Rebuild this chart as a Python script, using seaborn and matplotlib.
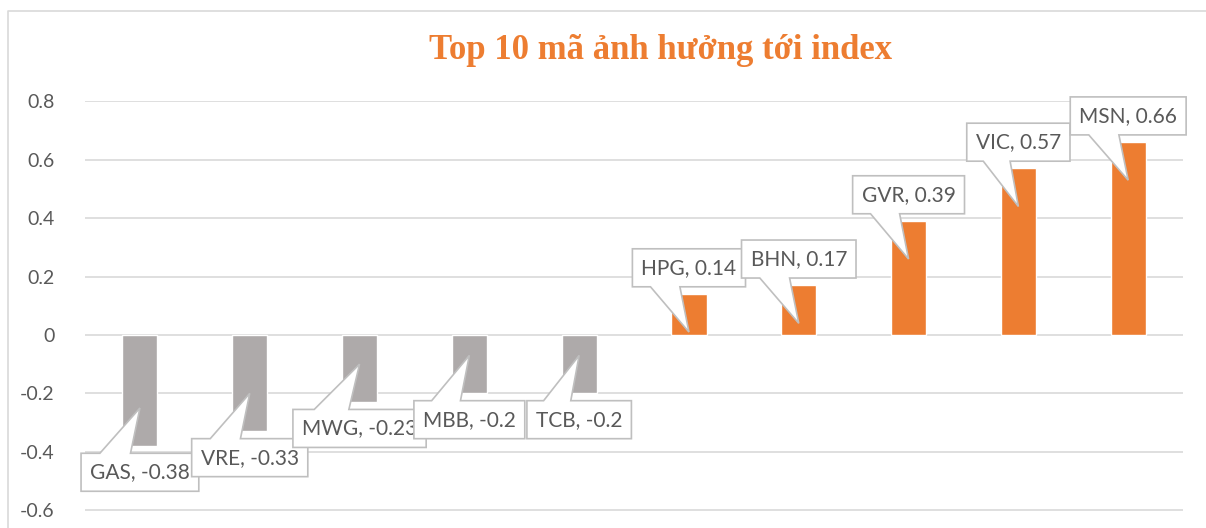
import matplotlib
matplotlib.use("Agg")
import matplotlib.pyplot as plt
from matplotlib.lines import Line2D
from matplotlib.patches import Polygon
from matplotlib.transforms import IdentityTransform
import seaborn as sns

# data
codes = ["GAS", "VRE", "MWG", "MBB", "TCB", "HPG", "BHN", "GVR", "VIC", "MSN"]
impact = [-0.38, -0.33, -0.23, -0.2, -0.2, 0.14, 0.17, 0.39, 0.57, 0.66]
yticks = [-0.6, -0.4, -0.2, 0, 0.2, 0.4, 0.6, 0.8]
ytick_labels = ["-0.6", "-0.4", "-0.2", "0", "0.2", "0.4", "0.6", "0.8"]
title = "Top 10 mã ảnh hưởng tới index"

orange = "#ED7D31"
grey_bar = "#AEAAAA"
text_grey = "#595959"
grid_grey = "#D9D9D9"
box_edge = "#BFBFBF"

sns.set_theme(style="white")
plt.rcParams["font.family"] = ["Lato", "DejaVu Sans"]

fig = plt.figure(figsize=(12.06, 5.28), dpi=100)
ax = fig.add_axes([0.0705, 0.0331, 0.9105, 0.7756])

colors = [orange if v > 0 else grey_bar for v in impact]
sns.barplot(x=codes, y=impact, hue=codes, palette=colors, width=0.32,
            saturation=1, legend=False, ax=ax, zorder=2)

ax.set_xlim(-0.5, len(codes) - 0.5)
ax.set_ylim(-0.601, 0.801)
ax.set_yticks(yticks, ytick_labels)
ax.set_xticks([])
ax.set_xlabel("")
ax.set_ylabel("")
ax.set_axisbelow(True)
ax.yaxis.grid(True, color=grid_grey, lw=1.2)
sns.despine(ax=ax, left=True, bottom=True)
ax.tick_params(axis="y", length=0, pad=22, labelsize=14, labelcolor=text_grey)

fig.text(0.548, 0.905, title, ha="center", va="center", fontsize=25,
         fontweight="bold", color=orange, family=["Liberation Serif", "DejaVu Serif"])

# chart area border: only top and left edges are inside the picture
bx, by = 7.5 / 1206, 1 - 10.5 / 528
fig.lines.append(Line2D([bx, bx, 1.0], [0.0, by, by], transform=fig.transFigure,
                        color=grid_grey, lw=1.2))

# callout labels
texts = []
for i, (c, v) in enumerate(zip(codes, impact)):
    s = 1 if v > 0 else -1
    t = ax.text(i, v + s * 0.09, f"{c}, {v:g}", ha="center", va="center",
                fontsize=15, color=text_grey, zorder=10 + 2 * i)
    texts.append(t)

fig.canvas.draw()
r = fig.canvas.get_renderer()
for i, (t, v) in enumerate(zip(texts, impact)):
    s = 1 if v > 0 else -1
    bb = t.get_window_extent(r)
    x0, x1 = bb.x0 - 9, bb.x1 + 9
    yc = (bb.y0 + bb.y1) / 2
    y0, y1 = yc - 19, yc + 19
    w = x1 - x0
    b1, b2 = x0 + 0.16 * w, x0 + 0.42 * w
    tip = tuple(ax.transData.transform((i, v - s * 0.13)))
    if s < 0:
        pts = [(x0, y0), (x1, y0), (x1, y1), (b2, y1), tip, (b1, y1), (x0, y1)]
    else:
        pts = [(x0, y1), (x1, y1), (x1, y0), (b2, y0), tip, (b1, y0), (x0, y0)]
    ax.add_patch(Polygon(pts, closed=True, transform=IdentityTransform(),
                         fc="white", ec=box_edge, lw=1.2, clip_on=False,
                         zorder=9 + 2 * i))

fig.savefig("out.png", dpi=100)
